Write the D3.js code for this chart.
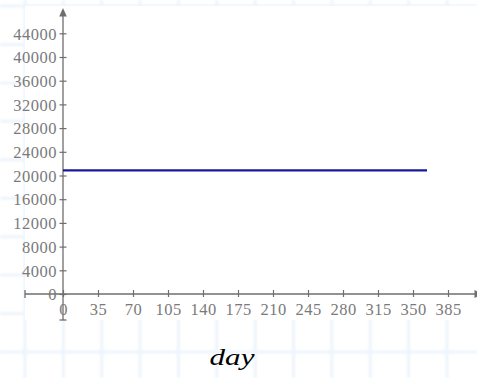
<!DOCTYPE html>
<html>
<head>
<meta charset="utf-8">
<script src="https://cdn.jsdelivr.net/npm/d3@7"></script>
<style>
  html, body { margin: 0; padding: 0; background: #fff; }
  svg { display: block; }
  .tick text { font-family: "Liberation Serif", serif; font-size: 16.5px; fill: #7a7a7a; letter-spacing: 0.5px; }
</style>
</head>
<body>
<div id="chart"></div>
<script>
// Daily series: a flat level held across the year
const days = [0, 364];
const values = [20850, 20850];

// Axis ticks
const xTicks = [0, 35, 70, 105, 140, 175, 210, 245, 280, 315, 350, 385];
const yTicks = [0, 4000, 8000, 12000, 16000, 20000, 24000, 28000, 32000, 36000, 40000, 44000];
const xLabel = "day";

const W = 477, H = 378;
const axisColor = "#6e6e6e";

const svg = d3.select("#chart").append("svg")
  .attr("width", W).attr("height", H);

const defs = svg.append("defs");
defs.append("filter").attr("id", "soft")
  .append("feGaussianBlur").attr("stdDeviation", 0.8);

// Graph-paper backdrop
svg.append("rect").attr("width", W).attr("height", H).attr("fill", "#fff");
const grid = svg.append("g").attr("stroke", "#edf4fc").attr("stroke-width", 3)
  .attr("filter", "url(#soft)");
d3.range(0, 13).forEach(k => {
  const gx = 25 + 38.36 * k;
  grid.append("line").attr("x1", gx).attr("x2", gx).attr("y1", 0).attr("y2", H);
});
d3.range(-1, 10).forEach(k => {
  const gy = 6 + 38.44 * k;
  grid.append("line").attr("x1", 0).attr("x2", W).attr("y1", gy).attr("y2", gy);
});
// Plot panel
svg.append("rect").attr("x", 25).attr("y", 6).attr("width", W - 25).attr("height", 314)
  .attr("fill", "#fff");

// Scales
const x = d3.scaleLinear().domain([0, 385]).range([63, 448]);
const y = d3.scaleLinear().domain([0, 44000]).range([294, 33.3]);

const x0 = x(0), y0 = y(0);

// Axis lines with arrowheads
svg.append("line").attr("x1", x0).attr("x2", x0).attr("y1", 320).attr("y2", 14)
  .attr("stroke", axisColor).attr("stroke-width", 1.3);
svg.append("line").attr("x1", 25).attr("x2", 478).attr("y1", y0).attr("y2", y0)
  .attr("stroke", axisColor).attr("stroke-width", 1.3);
svg.append("path")
  .attr("d", `M${x0},8 L${x0 - 3.8},16.5 L${x0 + 3.8},16.5 Z`)
  .attr("fill", axisColor);
svg.append("path")
  .attr("d", `M483,${y0} L474.5,${y0 - 4} L474.5,${y0 + 4} Z`)
  .attr("fill", axisColor);
// End caps
svg.append("line").attr("x1", 25).attr("x2", 25).attr("y1", y0 - 4).attr("y2", y0 + 4)
  .attr("stroke", axisColor).attr("stroke-width", 1.3);
svg.append("line").attr("x1", x0 - 3.5).attr("x2", x0 + 3.5).attr("y1", 320).attr("y2", 320)
  .attr("stroke", axisColor).attr("stroke-width", 1.3);

// Y axis ticks and labels
const gy = svg.append("g").attr("transform", `translate(${x0},0)`)
  .call(d3.axisLeft(y).tickValues(yTicks).tickFormat(d3.format("d")).tickSize(4).tickPadding(2));
gy.select(".domain").remove();
gy.selectAll(".tick line").attr("x1", -3.5).attr("x2", 3.5)
  .attr("stroke", axisColor).attr("stroke-width", 1.2);
gy.selectAll(".tick text").attr("x", -6).attr("dy", "0.35em");

// X axis ticks and labels
const gx = svg.append("g").attr("transform", `translate(0,${y0})`)
  .call(d3.axisBottom(x).tickValues(xTicks).tickFormat(d3.format("d")).tickSize(4));
gx.select(".domain").remove();
gx.selectAll(".tick line").attr("y1", -4).attr("y2", 3)
  .attr("stroke", axisColor).attr("stroke-width", 1.2);
gx.selectAll(".tick text").attr("y", 21).attr("dy", 0);

// Series line
const line = d3.line().x((d, i) => x(days[i])).y(d => y(d));
svg.append("path").datum(values)
  .attr("d", line)
  .attr("fill", "none")
  .attr("stroke", "#1a1a96")
  .attr("stroke-width", 2.2);

// Axis title
svg.append("text")
  .attr("transform", "translate(232,365) scale(1.35,1)")
  .attr("text-anchor", "middle")
  .attr("font-family", "Liberation Serif, serif")
  .attr("font-style", "italic")
  .attr("font-size", 23)
  .attr("fill", "#000")
  .text(xLabel);
</script>
</body>
</html>
